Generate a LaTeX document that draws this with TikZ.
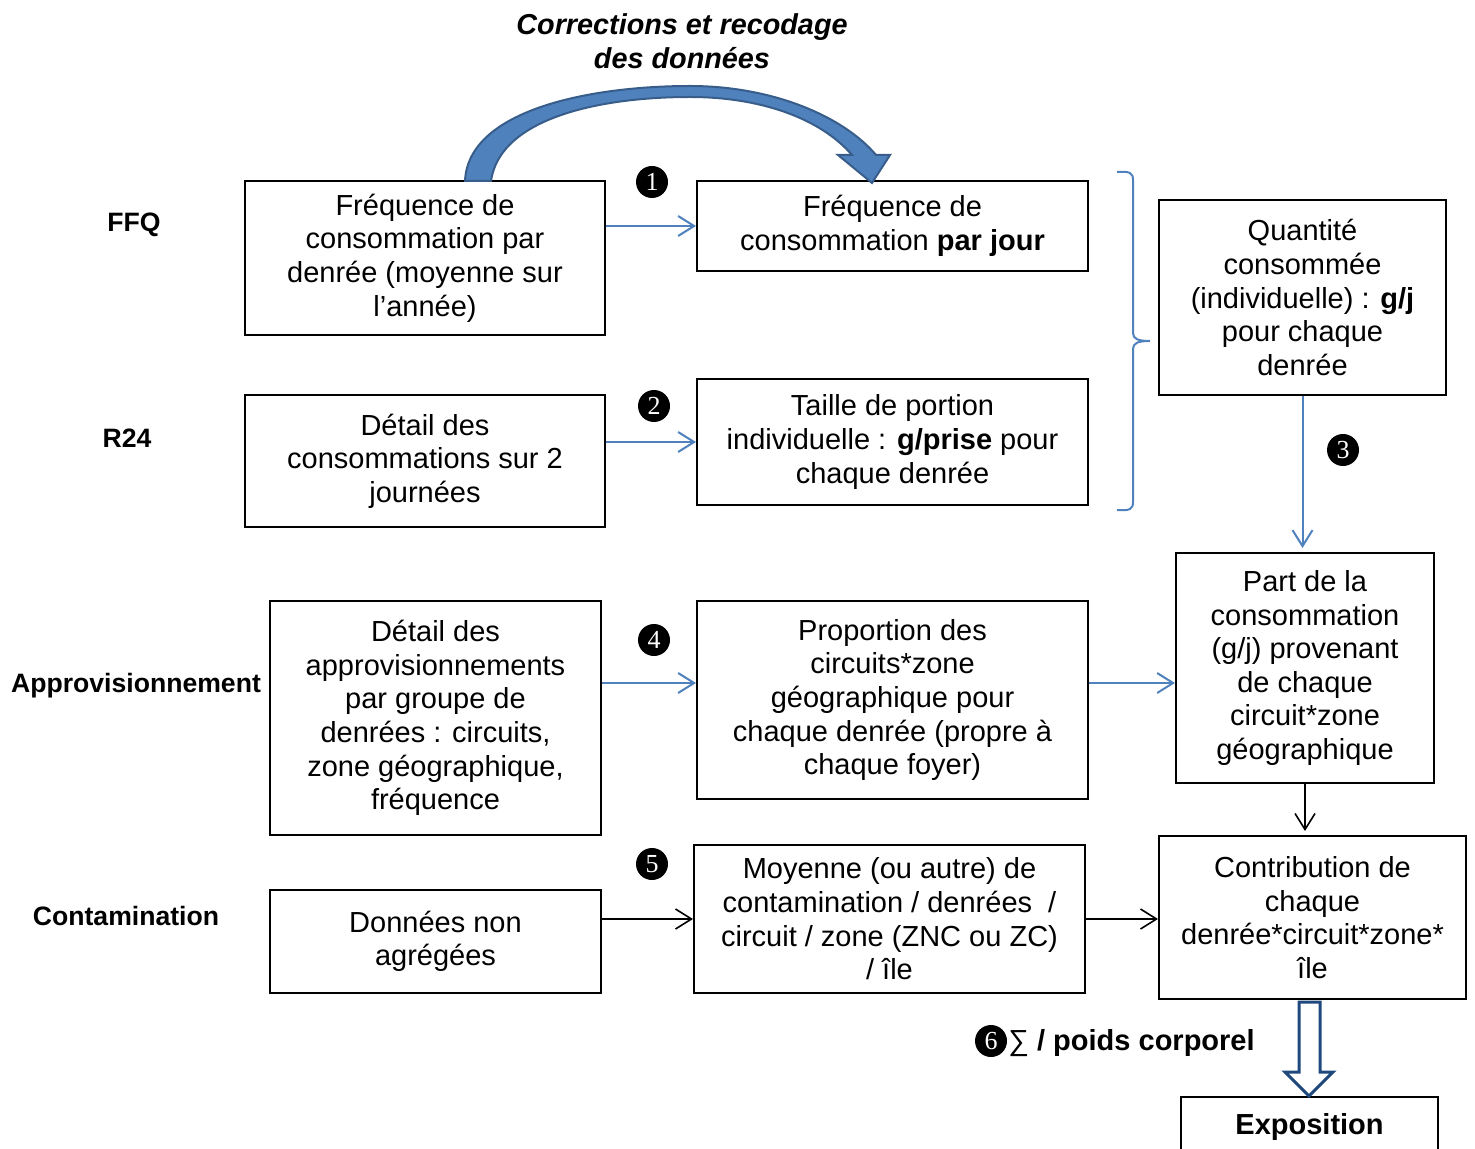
\documentclass[tikz,border=0pt]{standalone}
\usepackage{fontspec}
\setmainfont{Liberation Sans}
\newfontfamily\numfont{Liberation Serif}
\usetikzlibrary{arrows.meta}

\definecolor{lineblue}{RGB}{79,129,189}
\definecolor{darkblue}{RGB}{56,93,138}
\definecolor{navy}{RGB}{31,73,125}

\begin{document}
\begin{tikzpicture}[x=0.5pt,y=-0.5pt]

      \tikzset{box/.style={draw, line width=1pt, align=center, inner sep=0pt, font=\fontsize{14.5}{16.8}\selectfont},
               rowlabel/.style={font=\fontsize{13.3}{15}\selectfont\bfseries},
               numdot/.style={circle, fill=black, inner sep=0pt, minimum size=16pt, text=white, font=\numfont\fontsize{13}{13}\selectfont},
               bluearrow/.style={-{Straight Barb[length=8pt, width=10pt]}, draw=lineblue, line width=1pt},
               blackarrow/.style={-{Straight Barb[length=8pt, width=10pt]}, draw=black, line width=0.8pt}}
      \useasboundingbox (0,0) rectangle (1475,1149);
%% Row labels
      	\node[rowlabel] (lffq) at (134,225) {FFQ};
      	\node[rowlabel] (lr24) at (127,438) {R24};
      	\node[rowlabel] (lapp) at (136,686) {Approvisionnement};
      	\node[rowlabel] (lcont) at (126,916) {Contamination};
%% Boxes
      	\node[box, minimum width=180pt, minimum height=77pt] (ffq1) at (425,258) {Fréquence de\\consommation par\\denrée (moyenne sur\\l’année)};
      	\node[box, minimum width=195.5pt, minimum height=45pt] (ffq2) at (892.5,226) {Fréquence de\\consommation \textbf{par jour}};
      	\node[box, minimum width=143.5pt, minimum height=97.5pt] (qte) at (1302.5,297.5) {Quantité\\consommée\\(individuelle) : \textbf{g/j}\\pour chaque\\denrée};
      	\node[box, minimum width=180pt, minimum height=66pt] (r241) at (425,461) {Détail des\\consommations sur 2\\journées};
      	\node[box, minimum width=195.5pt, minimum height=63pt] (r242) at (892.5,442) {Taille de portion\\individuelle : \textbf{g/prise} pour\\chaque denrée};
      	\node[box, minimum width=165.5pt, minimum height=117pt] (app1) at (435.5,718) {Détail des\\approvisionnements\\par groupe de\\denrées : circuits,\\zone géographique,\\fréquence};
      	\node[box, minimum width=195.5pt, minimum height=99pt] (app2) at (892.5,700) {Proportion des\\circuits*zone\\géographique pour\\chaque denrée (propre à\\chaque foyer)};
      	\node[box, minimum width=129pt, minimum height=115pt] (part) at (1305,668) {Part de la\\consommation\\(g/j) provenant\\de chaque\\circuit*zone\\géographique};
      	\node[box, minimum width=165.5pt, minimum height=51.5pt] (cont1) at (435.5,941.5) {Données non\\agrégées};
      	\node[box, minimum width=195.5pt, minimum height=74pt] (cont2) at (889.5,919) {Moyenne (ou autre) de\\contamination / denrées~~/\\circuit / zone (ZNC ou ZC)\\/ île};
      	\node[box, minimum width=153.5pt, minimum height=81.5pt] (contrib) at (1312.5,917.5) {Contribution de\\chaque\\denrée*circuit*zone*\\île};
      	\node[box, minimum width=128.5pt, minimum height=30pt, font=\fontsize{14.5}{16.8}\selectfont\bfseries] (expo) at (1309.5,1127) {Exposition};
%% Step numbers
      	\node[numdot] (n1) at (652,182) {1};
      	\node[numdot] (n2) at (654,406) {2};
      	\node[numdot] (n3) at (1343,450) {3};
      	\node[numdot] (n4) at (654,640) {4};
      	\node[numdot] (n5) at (652,864) {5};
      	\node[numdot] (n6) at (991,1041) {6};
      	\node[anchor=west, inner sep=0pt, font=\fontsize{14.5}{16.8}\selectfont\bfseries] (poids) at (1008,1043) {{\mdseries ∑} / poids corporel};
%% Title of the curved arrow
      	\node[align=center, font=\fontsize{14.4}{16.8}\selectfont\bfseries\itshape] (titre) at (682,41) {Corrections et recodage\\des données};
%Edges
		\path (ffq1.east |- ffq2.west) edge[bluearrow] (ffq2.west);
		\path (r241.east |- r242.west) edge[bluearrow] (r242.west);
		\path (app1.east |- 0,683) edge[bluearrow] (app2.west |- 0,683);
		\path (app2.east |- 0,683) edge[bluearrow] (part.west |- 0,683);
		\path (qte.south) edge[bluearrow] ([yshift=2pt]qte.south |- part.north);
		\path (part.south) edge[blackarrow] ([yshift=2pt]part.south |- contrib.north);
		\path (cont1.east |- cont2.west) edge[blackarrow] (cont2.west);
		\path (cont2.east) edge[blackarrow] (contrib.west |- cont2.east);
%Brace
		\draw [lineblue, line width=1pt] (1117,172) .. controls (1130,171) and (1133,173) .. (1133,180) -- (1133,333)
		      .. controls (1133,339) and (1138,341) .. (1150,341)
		      .. controls (1138,341) and (1133,343) .. (1133,349) -- (1133,502)
		      .. controls (1133,509) and (1130,511) .. (1117,510);
%Curved arrow
		\draw [darkblue, fill=lineblue, line width=1pt, line join=miter] (465,181) .. controls (468,110) and (590,86) .. (690,86)
		      .. controls (775,86) and (845,118) .. (876,155) -- (890,155) -- (872,183) -- (838,155) -- (852,155)
		      .. controls (820,118) and (760,97) .. (690,97)
		      .. controls (600,97) and (500,118) .. (491,181) -- cycle;
%Hollow arrow
		\draw [navy, fill=white, line width=1.5pt, line join=miter] (1299,1002) -- (1299,1072) -- (1285,1072) -- (1309,1096)
		      -- (1333,1072) -- (1320,1072) -- (1320,1002) -- cycle;

	\end{tikzpicture}
\end{document}
